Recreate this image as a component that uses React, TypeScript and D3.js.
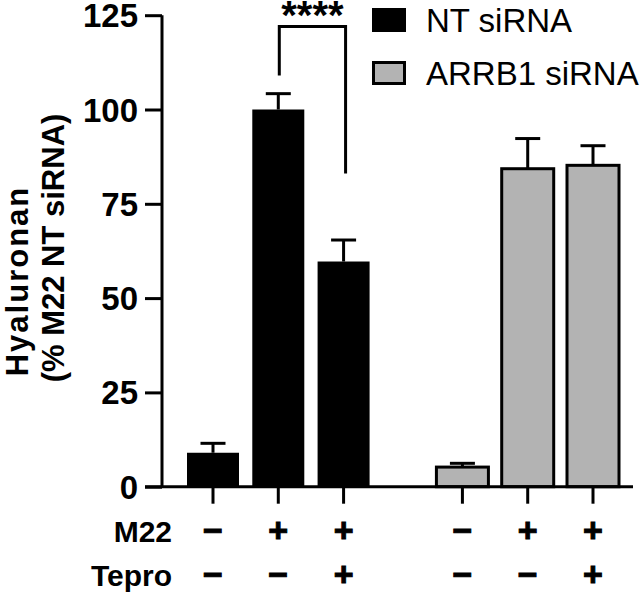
import React, { useEffect, useRef } from 'react';
import * as d3 from 'd3';

// treatment groups and conditions
const groups = ['NT siRNA', 'ARRB1 siRNA'];
const groupFill = ['#000000', '#b3b3b3'];
const m22 = ['−', '+', '+'];
const tepro = ['−', '−', '+'];

// mean and SEM per group
const ntMean = [9, 100, 59.7];
const ntSem = [2.5, 4.2, 5.7];
const arrbMean = [5.2, 84.3, 85.2];
const arrbSem = [1.0, 8.0, 5.2];

const yTicks = [0, 25, 50, 75, 100, 125];

const FONT = "Arial, 'Liberation Sans', Helvetica, sans-serif";

const App = () => {
  const svgRef = useRef<SVGSVGElement>(null);

  useEffect(() => {
    const svg = d3.select(svgRef.current);
    svg.selectAll('*').remove();
    const width = 640;
    const height = 593;
    svg.attr('width', width).attr('height', height);

    const y = d3.scaleLinear().domain([0, 125]).range([486.7, 15.2]);
    // slot positions: 3 bars per group, with a wider gap between groups
    const x = d3.scaleLinear().domain([0, 5.82]).range([213, 593]);
    const slot = (g, i) => g * 3.82 + i;
    const barW = 52;

    const bars = [
      ...ntMean.map((v, i) => ({ g: 0, i, v, e: ntSem[i] })),
      ...arrbMean.map((v, i) => ({ g: 1, i, v, e: arrbSem[i] })),
    ];

    // error bars (upper half only)
    const eb = svg.append('g').attr('stroke', '#000').attr('stroke-width', 3);
    bars.forEach((d) => {
      const cx = x(slot(d.g, d.i));
      eb.append('line').attr('x1', cx).attr('x2', cx).attr('y1', y(d.v)).attr('y2', y(d.v + d.e));
      eb.append('line')
        .attr('x1', cx - 12.5)
        .attr('x2', cx + 12.5)
        .attr('y1', y(d.v + d.e))
        .attr('y2', y(d.v + d.e));
    });

    // bars
    svg
      .append('g')
      .selectAll('rect')
      .data(bars)
      .enter()
      .append('rect')
      .attr('x', (d) => x(slot(d.g, d.i)) - barW / 2)
      .attr('y', (d) => y(d.v))
      .attr('width', barW)
      .attr('height', (d) => y(0) - y(d.v))
      .attr('fill', (d) => groupFill[d.g])
      .attr('stroke', '#000')
      .attr('stroke-width', (d) => (d.g === 1 ? 3 : 0));

    // y axis
    const yAxis = svg
      .append('g')
      .attr('transform', `translate(162,0)`)
      .call(d3.axisLeft(y).tickValues(yTicks).tickSize(17).tickPadding(7));
    yAxis.select('.domain').attr('stroke-width', 3).attr('d', `M0,${y(125)}V${y(0)}`);
    yAxis.selectAll('.tick line').attr('stroke-width', 3);
    yAxis
      .selectAll('.tick text')
      .attr('font-family', FONT)
      .attr('font-weight', 'bold')
      .attr('font-size', 33)
      .attr('dy', '0.35em')
      .attr('fill', '#000');

    // x axis
    const xs = svg.append('g');
    xs.append('line')
      .attr('x1', 145)
      .attr('x2', 633)
      .attr('y1', y(0))
      .attr('y2', y(0))
      .attr('stroke', '#000')
      .attr('stroke-width', 3);
    bars.forEach((d) => {
      const cx = x(slot(d.g, d.i));
      xs.append('line')
        .attr('x1', cx)
        .attr('x2', cx)
        .attr('y1', y(0))
        .attr('y2', y(0) + 17)
        .attr('stroke', '#000')
        .attr('stroke-width', 3);
    });

    // condition rows
    const rows = [
      { label: 'M22', vals: m22, cy: 530 },
      { label: 'Tepro', vals: tepro, cy: 574 },
    ];
    rows.forEach((r) => {
      svg
        .append('text')
        .attr('x', 172)
        .attr('y', r.cy + 12)
        .attr('text-anchor', 'end')
        .attr('font-family', FONT)
        .attr('font-weight', 'bold')
        .attr('font-size', 30)
        .text(r.label);
      groups.forEach((_, g) => {
        r.vals.forEach((s, i) => {
          svg
            .append('text')
            .attr('x', x(slot(g, i)))
            .attr('y', r.cy + 11.5)
            .attr('text-anchor', 'middle')
            .attr('font-family', FONT)
            .attr('font-weight', 'bold')
            .attr('font-size', 34)
            .attr('stroke', '#000')
            .attr('stroke-width', 1)
            .text(s);
        });
      });
    });

    // y label
    const yl = svg.append('g').attr('font-family', FONT).attr('font-weight', 'bold');
    yl.append('text')
      .attr('transform', 'translate(28,281) rotate(-90)')
      .attr('text-anchor', 'middle')
      .attr('font-size', 31)
      .attr('letter-spacing', 2)
      .text('Hyaluronan');
    yl.append('text')
      .attr('transform', 'translate(64,248) rotate(-90)')
      .attr('text-anchor', 'middle')
      .attr('font-size', 31)
      .text('(% M22 NT siRNA)');

    // significance bracket
    const x1 = x(slot(0, 1)) + 1;
    const x2 = x(slot(0, 2)) + 2;
    svg
      .append('path')
      .attr('d', `M${x1},${y(109)}V${y(122)}H${x2}V${y(83)}`)
      .attr('fill', 'none')
      .attr('stroke', '#000')
      .attr('stroke-width', 3);
    svg
      .append('text')
      .attr('x', (x1 + x2) / 2)
      .attr('y', 29)
      .attr('text-anchor', 'middle')
      .attr('font-family', FONT)
      .attr('font-weight', 'bold')
      .attr('font-size', 40)
      .text('****');

    // legend
    const lg = svg.append('g');
    groups.forEach((name, g) => {
      const top = 8 + g * 53;
      lg.append('rect')
        .attr('x', 373.5)
        .attr('y', top + 1.5)
        .attr('width', 31)
        .attr('height', 21)
        .attr('fill', groupFill[g])
        .attr('stroke', '#000')
        .attr('stroke-width', 3);
      lg.append('text')
        .attr('x', 426)
        .attr('y', top + 24)
        .attr('font-family', FONT)
        .attr('font-size', 33)
        .text(name);
    });
  }, []);

  return <svg ref={svgRef} style={{ position: 'absolute', left: 0, top: 0 }}></svg>;
};

export default App;
